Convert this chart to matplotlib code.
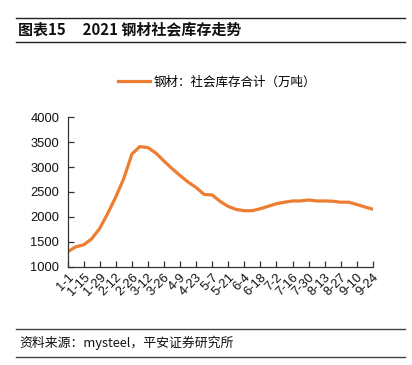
import numpy as np
import matplotlib.pyplot as plt
import matplotlib.lines as mlines

plt.rcParams['font.family'] = ['Liberation Sans', 'Noto Sans CJK SC', 'DejaVu Sans']
cjk = ['Noto Sans CJK SC', 'DejaVu Sans']

# weekly dates, 2021
dates = ["1-1", "1-8", "1-15", "1-22", "1-29", "2-5", "2-12", "2-19", "2-26", "3-5",
         "3-12", "3-19", "3-26", "4-2", "4-9", "4-16", "4-23", "4-30", "5-7", "5-14",
         "5-21", "5-28", "6-4", "6-11", "6-18", "6-25", "7-2", "7-9", "7-16", "7-23",
         "7-30", "8-6", "8-13", "8-20", "8-27", "9-3", "9-10", "9-17", "9-24"]
# 钢材社会库存合计（万吨）
stock = [1300, 1400, 1440, 1560, 1770, 2070, 2400, 2770, 3260, 3410,
         3390, 3280, 3120, 2970, 2830, 2700, 2590, 2450, 2440, 2310,
         2210, 2150, 2125, 2125, 2165, 2215, 2265, 2295, 2320, 2320,
         2340, 2320, 2320, 2315, 2295, 2295, 2250, 2200, 2155]

orange = '#ED7D31'

fig = plt.figure(figsize=(4.12, 3.65), dpi=100)
ax = fig.add_axes([0.164, 0.269, 0.741, 0.41])

x = np.arange(len(dates))
ax.plot(x, stock, color=orange, lw=2.3, solid_joinstyle='round')

ax.set_xlim(0, len(dates) - 1)
ax.set_ylim(1000, 4000)
ax.set_yticks(np.arange(1000, 4001, 500))
ax.set_xticks(x[::2])
ax.set_xticklabels(dates[::2], rotation=45, ha='right', rotation_mode='anchor')

ax.tick_params(axis='both', direction='in', length=4, width=0.9, color='#333333',
               labelsize=9.3, labelcolor='#111111')
ax.tick_params(axis='y', pad=6)
ax.tick_params(axis='x', pad=3)
for s in ['top', 'right']:
    ax.spines[s].set_visible(False)
for s in ['left', 'bottom']:
    ax.spines[s].set_color('#333333')
    ax.spines[s].set_linewidth(0.9)

handle = mlines.Line2D([], [], color=orange, lw=2.3)
fig.legend([handle], ['钢材：社会库存合计（万吨）'], loc='center',
           bbox_to_anchor=(217 / 412, 1 - 82 / 365), frameon=False,
           handlelength=2.5, handletextpad=0.3, prop={'family': cjk, 'size': 9})

# title block
fig.add_artist(mlines.Line2D([16 / 412, 405 / 412], [1 - 18 / 365] * 2, color='#222222', lw=1.0))
fig.add_artist(mlines.Line2D([16 / 412, 405 / 412], [1 - 41.5 / 365] * 2, color='#222222', lw=1.0))
fig.text(18 / 412, 1 - 30 / 365, '图表15     2021 钢材社会库存走势', family=cjk,
         fontsize=10.8, fontweight='bold', va='center', ha='left', color='#111111')

# source block
fig.add_artist(mlines.Line2D([16 / 412, 405 / 412], [1 - 329 / 365] * 2, color='#444444', lw=1.0))
fig.add_artist(mlines.Line2D([16 / 412, 405 / 412], [1 - 357 / 365] * 2, color='#444444', lw=1.0))
fig.text(19 / 412, 1 - 343 / 365, '资料来源：mysteel，平安证券研究所', family=cjk,
         fontsize=9.3, style='italic', va='center', ha='left', color='#111111')

fig.savefig('out.png', dpi=100)
